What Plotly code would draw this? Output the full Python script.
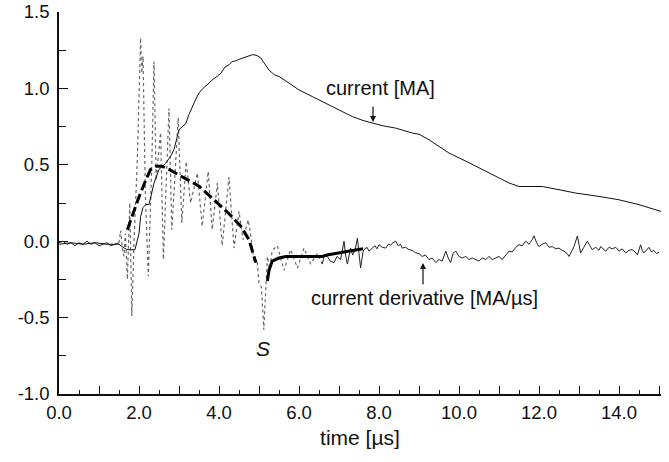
import plotly.graph_objects as go

# ---- data ----
cur_t = [0.0, 0.3, 0.6, 0.9, 1.2, 1.5, 1.6, 1.7, 1.8, 1.9, 2.0, 2.04, 2.1, 2.17, 2.25, 2.3, 2.375, 2.5,
         2.67, 2.8, 2.875, 3.0, 3.08, 3.17, 3.25, 3.33, 3.42, 3.5, 3.6, 3.75, 3.85, 3.96, 4.05, 4.15, 4.25,
         4.33, 4.42, 4.5, 4.58, 4.7, 4.83, 4.875, 4.95, 5.04, 5.15, 5.25, 5.38, 5.5, 5.75, 6.0, 6.33, 6.75,
         7.0, 7.33, 7.6, 7.83, 8.1, 8.42, 8.83, 9.0, 9.25, 9.5, 9.75, 10.2, 10.58, 11.0, 11.25, 11.5, 12.08,
         12.5, 12.92, 13.5, 14.0, 14.5, 15.05]
cur_v = [-0.02, -0.01, -0.02, -0.01, -0.02, -0.02, -0.04, -0.055, -0.056, -0.055, 0.05, 0.16, 0.22, 0.24,
         0.24, 0.30, 0.38, 0.47, 0.51, 0.56, 0.60, 0.73, 0.75, 0.77, 0.83, 0.88, 0.93, 0.97, 1.00, 1.035,
         1.06, 1.08, 1.10, 1.14, 1.154, 1.176, 1.18, 1.19, 1.198, 1.21, 1.22, 1.22, 1.215, 1.20, 1.16, 1.12,
         1.09, 1.078, 1.035, 0.99, 0.947, 0.893, 0.86, 0.816, 0.79, 0.773, 0.755, 0.74, 0.708, 0.70, 0.664,
         0.62, 0.577, 0.52, 0.468, 0.41, 0.381, 0.358, 0.358, 0.337, 0.315, 0.293, 0.271, 0.239, 0.195]

base_t = [0.0, 0.1, 0.2, 0.3, 0.4, 0.5, 0.6, 0.7, 0.8, 0.9, 1.0, 1.1, 1.2, 1.3, 1.4, 1.5]
base_v = [-0.01, 0.00, -0.02, -0.01, -0.03, -0.01, -0.02, 0.00, -0.02, -0.01, -0.03, -0.02, -0.01, -0.03,
          -0.02, -0.01]

osc_t = [1.5, 1.54, 1.58, 1.625, 1.66, 1.71, 1.77, 1.82, 1.875, 1.96, 2.04, 2.07, 2.10, 2.16, 2.233, 2.32,
         2.375, 2.43, 2.54, 2.61, 2.75, 2.82, 2.98, 3.07, 3.18, 3.29, 3.46, 3.58, 3.73, 3.83, 3.96, 4.08,
         4.25, 4.375, 4.5, 4.6, 4.73, 4.8, 4.875, 4.95, 5.0, 5.06, 5.12, 5.17, 5.21, 5.27, 5.33, 5.46, 5.625,
         5.79, 5.96, 6.125, 6.29, 6.46, 6.58]
osc_v = [-0.01, 0.07, -0.04, -0.10, 0.05, -0.25, 0.25, -0.49, -0.01, 0.55, 1.33, 1.10, 1.21, 0.30, -0.23,
         0.51, 1.176, 0.40, 0.71, -0.12, 0.87, 0.075, 0.806, 0.12, 0.52, 0.25, 0.446, 0.097, 0.457, 0.075,
         0.38, -0.03, 0.42, -0.045, 0.195, 0.01, 0.14, 0.03, -0.14, -0.12, -0.27, -0.30, -0.58, -0.27, -0.10,
         -0.18, -0.06, -0.03, -0.19, -0.055, -0.175, -0.045, -0.15, -0.08, -0.15]

tail_t = [6.58, 6.64, 6.71, 6.78, 6.875, 6.95, 7.04, 7.09, 7.125, 7.17, 7.21, 7.29, 7.34, 7.40, 7.46, 7.50,
          7.54, 7.60, 7.625, 7.70, 7.75, 7.83, 7.90, 7.95, 8.00, 8.08, 8.17, 8.23, 8.29, 8.35, 8.42, 8.48,
          8.54, 8.58, 8.66, 8.75, 8.83, 8.92, 9.00, 9.08, 9.16, 9.25, 9.33, 9.42, 9.50, 9.58, 9.63, 9.67,
          9.73, 9.79, 9.85, 9.92, 10.00, 10.08, 10.17, 10.25, 10.33, 10.42, 10.50, 10.58, 10.67, 10.75,
          10.83, 10.92, 11.00, 11.08, 11.17, 11.25, 11.33, 11.42, 11.50, 11.58, 11.67, 11.75, 11.83, 11.875,
          11.94, 12.00, 12.08, 12.17, 12.25, 12.33, 12.42, 12.50, 12.58, 12.625, 12.70, 12.75, 12.83, 12.875,
          12.96, 13.00, 13.04, 13.12, 13.21, 13.27, 13.33, 13.42, 13.50, 13.54, 13.60, 13.67, 13.75, 13.83,
          13.92, 14.00, 14.08, 14.17, 14.25, 14.33, 14.40, 14.46, 14.54, 14.58, 14.62, 14.70, 14.75, 14.81,
          14.87, 14.94, 15.00]
tail_v = [-0.15, -0.09, -0.10, -0.13, -0.14, -0.10, -0.12, -0.03, 0.00, -0.10, -0.15, -0.045, -0.09, -0.06,
          0.02, -0.08, -0.175, -0.07, -0.055, -0.04, -0.065, -0.045, -0.03, -0.05, -0.023, -0.04, -0.045,
          -0.02, -0.025, -0.01, 0.00, -0.03, -0.02, -0.045, -0.04, -0.055, -0.06, -0.077, -0.08, -0.10, -0.09,
          -0.12, -0.11, -0.14, -0.12, -0.13, -0.09, -0.065, -0.11, -0.14, -0.08, -0.065, -0.10, -0.11, -0.10,
          -0.12, -0.11, -0.12, -0.13, -0.11, -0.12, -0.10, -0.12, -0.11, -0.10, -0.12, -0.09, -0.065, -0.07,
          -0.04, -0.023, -0.03, 0.00, -0.02, 0.01, 0.035, -0.01, -0.035, -0.02, -0.01, -0.04, -0.035, -0.05,
          -0.045, -0.06, -0.065, -0.08, -0.10, -0.06, -0.035, 0.035, -0.02, -0.077, -0.04, 0.00, -0.03,
          -0.055, -0.04, -0.06, -0.035, -0.05, -0.065, -0.04, -0.05, -0.04, -0.065, -0.05, -0.077, -0.06,
          -0.055, -0.07, -0.09, -0.023, -0.06, -0.077, -0.05, -0.04, -0.07, -0.06, -0.08, -0.073]

fit1_t = [1.71, 1.83, 2.0, 2.17, 2.29, 2.42, 2.58, 2.75, 3.08, 3.5, 3.92, 4.25, 4.54, 4.75, 4.875, 4.92]
fit1_v = [0.075, 0.17, 0.29, 0.40, 0.47, 0.49, 0.49, 0.47, 0.42, 0.36, 0.26, 0.18, 0.10, 0.01, -0.10, -0.14]
fit2_t = [5.21, 5.25, 5.33, 5.5, 5.67, 6.0, 6.58, 6.7, 7.0, 7.3, 7.6]
fit2_v = [-0.26, -0.19, -0.13, -0.11, -0.10, -0.10, -0.10, -0.09, -0.075, -0.065, -0.05]

x_ticks = [i for i in range(16)]
x_labels = ["%.1f" % v if v % 2 == 0 else "" for v in x_ticks]
y_ticks = [-1.0, -0.5, 0.0, 0.5, 1.0, 1.5]
y_labels = ["%.1f" % v for v in y_ticks]

FONT = "Liberation Sans, Arial, sans-serif"

fig = go.Figure()
fig.add_trace(go.Scatter(x=base_t, y=base_v, mode="lines", line=dict(color="#222", width=1)))
fig.add_trace(go.Scatter(x=osc_t, y=osc_v, mode="lines", line=dict(color="#666", width=1.2, dash="dot")))
fig.add_trace(go.Scatter(x=tail_t, y=tail_v, mode="lines", line=dict(color="#222", width=1)))
fig.add_trace(go.Scatter(x=cur_t, y=cur_v, mode="lines", line=dict(color="#111", width=1)))
fig.add_trace(go.Scatter(x=fit1_t, y=fit1_v, mode="lines", line=dict(color="#000", width=3, dash="10px,4px")))
fig.add_trace(go.Scatter(x=fit2_t, y=fit2_v, mode="lines", line=dict(color="#000", width=3)))

fig.add_annotation(x=8.025, y=1.004, text="current [MA]", showarrow=False,
                   font=dict(size=20, family=FONT, color="#111"))
fig.add_annotation(x=7.85, y=0.78, ax=0, ay=-17, text="", showarrow=True, arrowhead=2,
                   arrowsize=1, arrowwidth=1.2, arrowcolor="#111")
fig.add_annotation(x=9.14, y=-0.37, text="current derivative [MA/\u00b5s]", showarrow=False,
                   font=dict(size=20, family=FONT, color="#111"))
fig.add_annotation(x=9.1, y=-0.143, ax=0, ay=23, text="", showarrow=True, arrowhead=2,
                   arrowsize=1, arrowwidth=1.2, arrowcolor="#111")
fig.add_annotation(x=5.11, y=-0.70, text="<i>S</i>", showarrow=False,
                   font=dict(size=21, family=FONT, color="#111"))

fig.update_layout(
    width=669, height=462,
    margin=dict(l=59, r=8, t=12, b=68, autoexpand=False),
    paper_bgcolor="white", plot_bgcolor="white",
    showlegend=False,
    font=dict(family=FONT, size=18, color="#111"),
)
fig.update_xaxes(
    range=[0, 15.05], showgrid=False, zeroline=False, automargin=False,
    showline=True, linecolor="#111", linewidth=1.5,
    tickmode="array", tickvals=x_ticks, ticktext=x_labels,
    ticks="inside", ticklen=8, tickwidth=1, tickcolor="#111",
    minor=dict(dtick=0.5, ticks="inside", ticklen=4, tickcolor="#111", tickwidth=1),
    tickfont=dict(size=18.5), ticklabelstandoff=1,
    title=dict(text="time [\u00b5s]", font=dict(size=21), standoff=8),
)
fig.update_yaxes(
    range=[-1.0, 1.5], showgrid=False, zeroline=False, automargin=False,
    showline=True, linecolor="#111", linewidth=1.5,
    tickmode="array", tickvals=y_ticks, ticktext=y_labels,
    ticks="inside", ticklen=9, tickwidth=1, tickcolor="#111",
    minor=dict(dtick=0.25, ticks="inside", ticklen=7, tickcolor="#111", tickwidth=1),
    tickfont=dict(size=18.5), ticklabelstandoff=4, ticklabeloverflow="allow",
)

# remove the default page margin so the figure sits at the window's top-left corner
fig.write_html("out.html", config={"displayModeBar": False},
               post_script="document.body.style.margin='0px';")
